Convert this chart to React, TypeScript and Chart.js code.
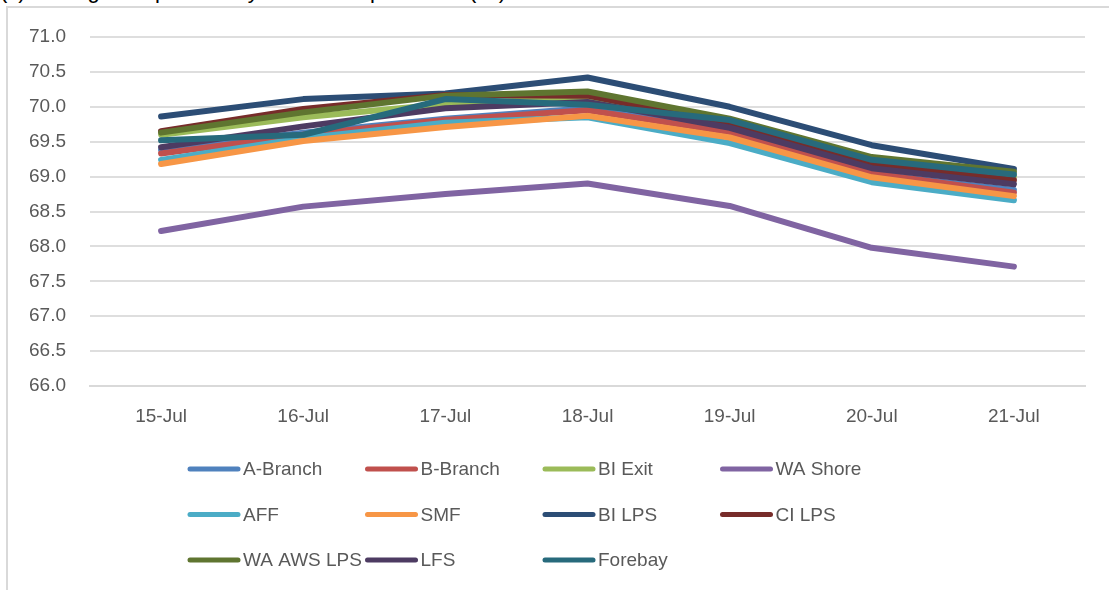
import React, { useEffect, useRef } from "react";
import { Chart, registerables } from "chart.js";

Chart.register(...registerables);

const categories = ["15-Jul", "16-Jul", "17-Jul", "18-Jul", "19-Jul", "20-Jul", "21-Jul"];

const seriesNames = [
  "A-Branch", "B-Branch", "BI Exit", "WA Shore",
  "AFF", "SMF", "BI LPS", "CI LPS",
  "WA AWS LPS", "LFS", "Forebay",
];

const aBranch = [69.38, 69.63, 69.83, 69.98, 69.68, 69.04, 68.81];
const bBranch = [69.33, 69.6, 69.81, 69.95, 69.64, 69.05, 68.77];
const biExit = [69.6, 69.85, 70.04, 70.13, 69.8, 69.24, 69.0];
const waShore = [68.22, 68.57, 68.75, 68.9, 68.58, 67.98, 67.71];
const aff = [69.24, 69.55, 69.77, 69.85, 69.48, 68.92, 68.66];
const smf = [69.18, 69.51, 69.71, 69.87, 69.56, 68.99, 68.72];
const biLps = [69.86, 70.11, 70.19, 70.42, 70.0, 69.45, 69.11];
const ciLps = [69.65, 69.97, 70.17, 70.16, 69.76, 69.17, 68.95];
const waAwsLps = [69.63, 69.92, 70.16, 70.22, 69.83, 69.28, 69.07];
const lfs = [69.42, 69.72, 69.98, 70.07, 69.7, 69.12, 68.89];
const forebay = [69.52, 69.6, 70.11, 70.03, 69.81, 69.24, 69.03];

const seriesValues = [aBranch, bBranch, biExit, waShore, aff, smf, biLps, ciLps, waAwsLps, lfs, forebay];

const seriesColors = [
  "#4F81BD", "#C0504D", "#9BBB59", "#8064A2",
  "#4BACC6", "#F79646", "#2C4D75", "#772C2A",
  "#5F7530", "#4D3B62", "#276A7C",
];

const yMin = 66;
const yMax = 71;
const yStep = 0.5;

const FONT = "'Liberation Sans', Arial, sans-serif";
const TEXT_COLOR = "#595959";

const legendPlugin = {
  id: "gridLegend",
  afterDraw(chart: any) {
    const ctx = chart.ctx;
    const ds = chart.data.datasets;
    ctx.save();
    ctx.font = `19px ${FONT}`;
    ctx.textBaseline = "middle";
    ctx.textAlign = "left";
    ds.forEach((d: any, i: number) => {
      const col = i % 4;
      const row = Math.floor(i / 4);
      const x0 = 190 + col * 177.5;
      const x1 = x0 + 48;
      const y = 469 + row * 45.5;
      ctx.strokeStyle = d.borderColor;
      ctx.lineWidth = 5;
      ctx.lineCap = "round";
      ctx.beginPath();
      ctx.moveTo(x0, y);
      ctx.lineTo(x1, y);
      ctx.stroke();
      ctx.fillStyle = TEXT_COLOR;
      ctx.fillText(d.label, x1 + 5, y + 1);
    });
    ctx.restore();
  },
};

export default function App() {
  const canvasRef = useRef<HTMLCanvasElement | null>(null);

  useEffect(() => {
    if (!canvasRef.current) return;
    const n = seriesNames.length;
    const chart = new Chart(canvasRef.current, {
      type: "line",
      data: {
        labels: categories,
        datasets: seriesNames.map((name, i) => ({
          label: name,
          data: seriesValues[i],
          borderColor: seriesColors[i],
          backgroundColor: seriesColors[i],
          borderWidth: 6,
          borderCapStyle: "round" as const,
          borderJoinStyle: "round" as const,
          pointRadius: 0,
          pointHoverRadius: 0,
          tension: 0,
          fill: false,
          order: n - i,
        })),
      },
      options: {
        responsive: false,
        animation: false,
        layout: { padding: { left: 0, right: 24, top: 37, bottom: 154 } },
        plugins: {
          legend: { display: false },
          tooltip: { enabled: false },
          title: { display: false },
        },
        scales: {
          x: {
            type: "category",
            offset: true,
            grid: { display: false, drawTicks: false },
            border: { display: true, color: "#d9d9d9", width: 2 },
            ticks: {
              color: TEXT_COLOR,
              font: { family: FONT, size: 19 },
              padding: 19,
              maxRotation: 0,
              autoSkip: false,
            },
            afterFit: (scale: any) => {
              scale.height = 50;
            },
          },
          y: {
            min: yMin,
            max: yMax,
            grid: { color: "#dedede", lineWidth: 2, drawTicks: false },
            border: { display: false },
            ticks: {
              stepSize: yStep,
              color: TEXT_COLOR,
              font: { family: FONT, size: 19 },
              padding: 24,
              callback: (v: any) => Number(v).toFixed(1),
            },
            afterFit: (scale: any) => {
              scale.width = 90;
            },
          },
        },
      },
      plugins: [legendPlugin],
    });
    return () => chart.destroy();
  }, []);

  return (
    <div
      style={{
        position: "fixed",
        left: 0,
        top: 0,
        width: 1109,
        height: 590,
        background: "#ffffff",
        overflow: "hidden",
      }}
    >
      <div
        style={{
          position: "absolute",
          left: 0,
          top: -20,
          fontFamily: FONT,
          fontSize: 22,
          lineHeight: "22px",
          color: "#000000",
          whiteSpace: "nowrap",
        }}
      >
        (c) Average Graph of Daily Water Temperatures (°F)
      </div>
      <div
        style={{
          position: "absolute",
          left: 6,
          top: 6,
          width: 1200,
          height: 700,
          border: "2px solid #d9d9d9",
          boxSizing: "border-box",
        }}
      />
      <canvas
        ref={canvasRef}
        width={1109}
        height={590}
        style={{ position: "absolute", left: 0, top: 0, width: 1109, height: 590 }}
      />
    </div>
  );
}
